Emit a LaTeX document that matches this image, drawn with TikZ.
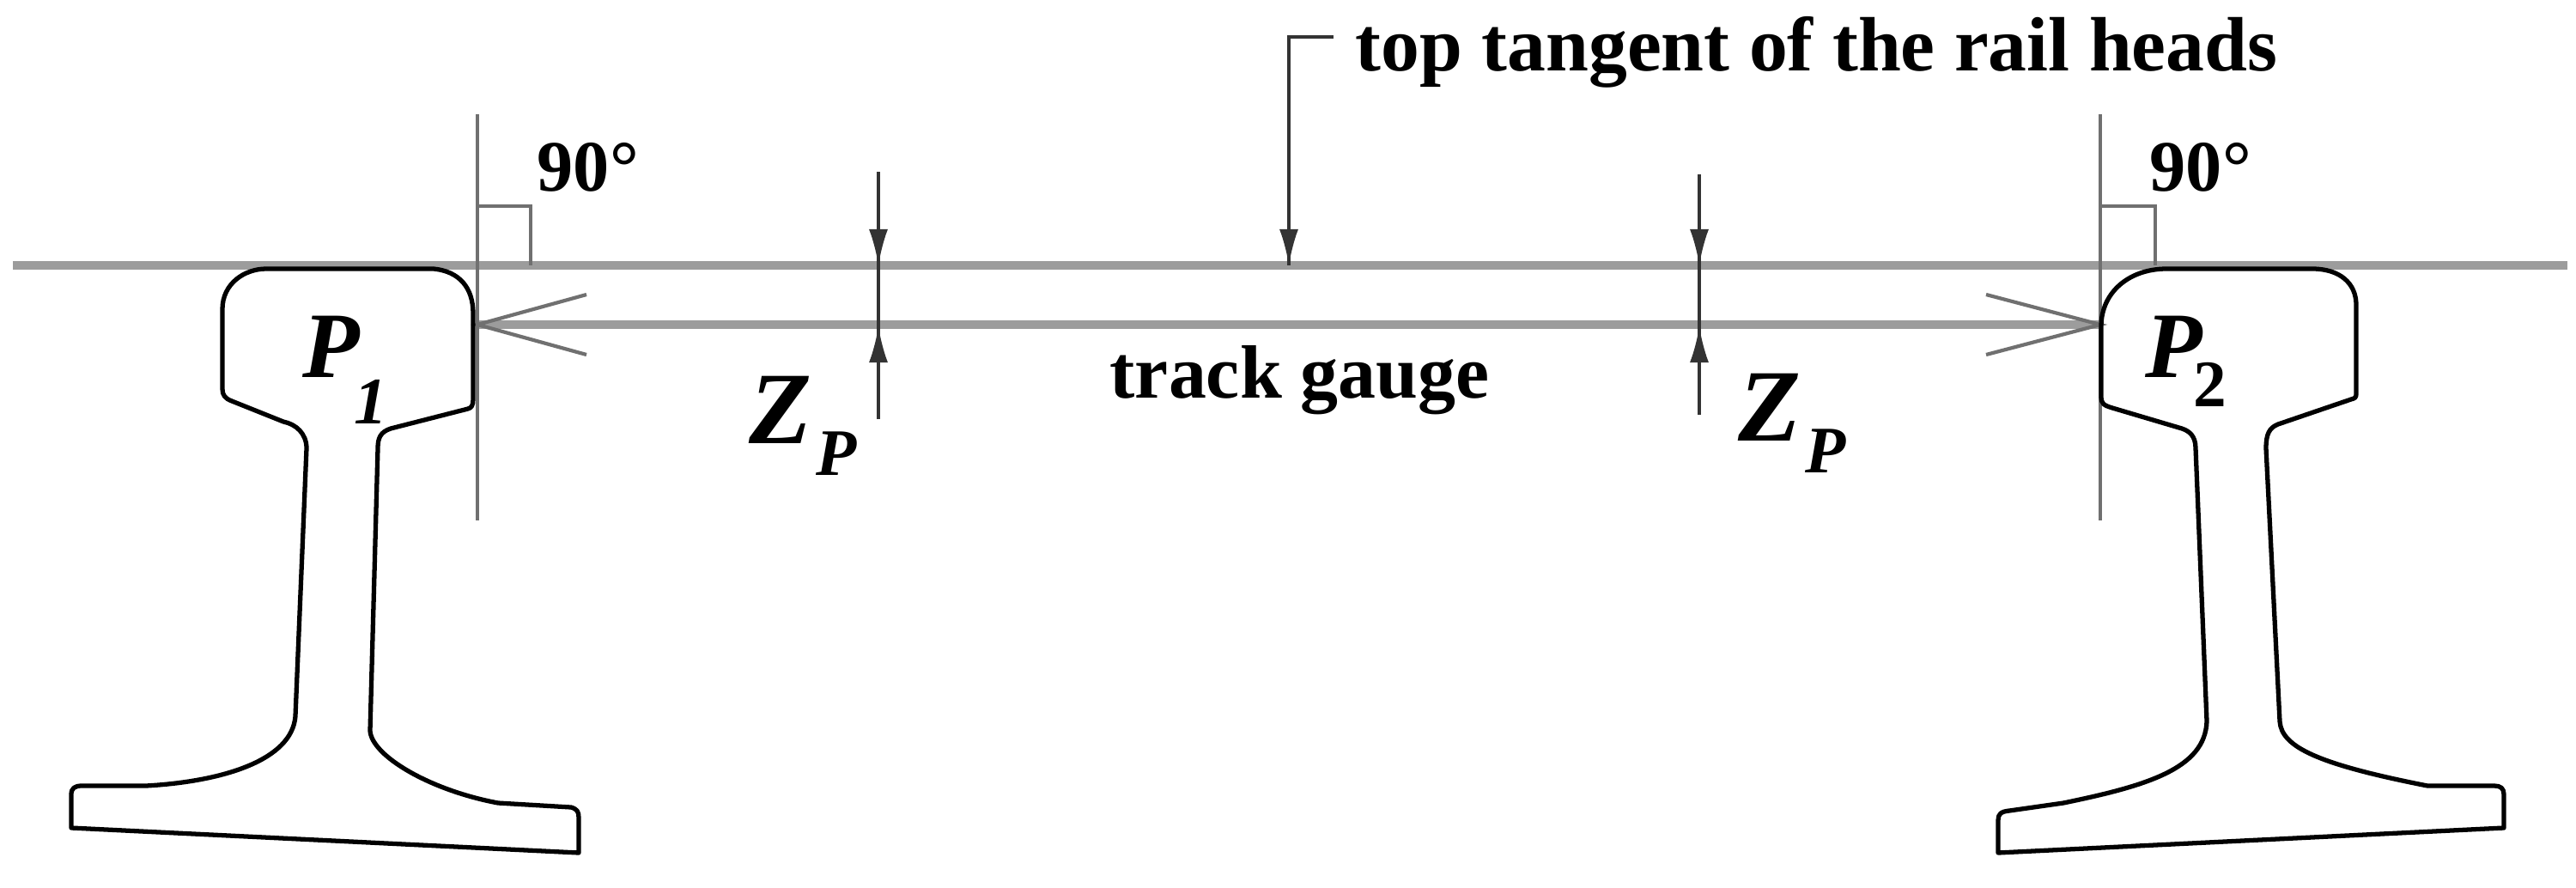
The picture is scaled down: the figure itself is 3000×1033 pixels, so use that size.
\documentclass[tikz,border=0pt]{standalone}
\usepackage{fontspec}
\setmainfont{Liberation Serif}
\usetikzlibrary{arrows.meta}
\definecolor{tanline}{HTML}{9C9C9C}
\definecolor{vline}{HTML}{707070}
\definecolor{dimc}{HTML}{333333}
\tikzset{
  railout/.style={draw=black,line width=1.5pt,line join=round},
  thickgray/.style={draw=tanline,line width=2.6pt},
  refline/.style={draw=vline,line width=1.2pt},
  dimline/.style={draw=dimc,line width=0.9pt},
  dimtip/.style={dimline,-{Latex[length=0.42cm,width=0.22cm]}},
  vlab/.style={inner sep=0pt,anchor=base west},
}
\begin{document}
\begin{tikzpicture}[x=0.01cm,y=-0.01cm]
\useasboundingbox (0,0) rectangle (3000,1033);
\coordinate (tl) at (15,309); \coordinate (tr) at (2990,309);
\coordinate (g1) at (556,378); \coordinate (g2) at (2446,378);
\draw[thickgray] (tl) -- (tr);
\draw[thickgray] (g1) -- (g2);
\draw[refline] (556,133) -- (556,606);
\draw[refline] (2446,133) -- (2446,606);
\draw[refline] (556,240) -- (618,240) -- (618,309);
\draw[refline] (2446,240) -- (2510,240) -- (2510,309);
\draw[refline] (683,343) -- (g1) -- (683,413);
\draw[refline] (2313,343) -- (g2) -- (2313,413);
% left rail
\draw[railout] (310,313) -- (505,313) .. controls (535,316) and (551,335) .. (551,365) -- (551,465)
  .. controls (551,472) and (549,475) .. (545,476) -- (455,499) .. controls (443,503) and (440,510) .. (440,522)
  -- (431,851) .. controls (433,880) and (500,920) .. (580,935) -- (665,940)
  .. controls (672,942) and (674,945) .. (674,952) -- (674,993) -- (83,964) -- (83,925)
  .. controls (83,918) and (87,915) .. (95,915) -- (170,915) .. controls (260,910) and (340,885) .. (344,834)
  -- (357,522) .. controls (357,505) and (345,494) .. (330,491) -- (270,467)
  .. controls (262,464) and (259,460) .. (259,453) -- (259,360) .. controls (259,330) and (285,313) .. (310,313) -- cycle;
% right rail
\draw[railout] (2523,313) -- (2693,313) .. controls (2725,313) and (2744,330) .. (2744,355) -- (2744,459)
  .. controls (2744,463) and (2742,464) .. (2738,465) -- (2653,494) .. controls (2643,498) and (2639,505) .. (2639,522)
  -- (2655,840) .. controls (2657,870) and (2700,890) .. (2827,915) -- (2905,915)
  .. controls (2912,915) and (2916,918) .. (2916,925) -- (2916,964) -- (2327,993) -- (2327,955)
  .. controls (2327,948) and (2330,945) .. (2340,944) -- (2403,935) .. controls (2500,915) and (2568,895) .. (2570,840)
  -- (2557,522) .. controls (2557,508) and (2550,502) .. (2541,499) -- (2460,475)
  .. controls (2450,472) and (2447,470) .. (2447,462) -- (2447,380) .. controls (2447,340) and (2480,313) .. (2523,313) -- cycle;
% Zp dimension arrows
\coordinate (za1) at (1023,200); \coordinate (zb1) at (1023,309);
\coordinate (zc1) at (1023,488); \coordinate (zd1) at (1023,380);
\draw[dimline] (za1) -- (zc1);
\draw[dimtip] (za1) -- (zb1);
\draw[dimtip] (zc1) -- (zd1);
\coordinate (za2) at (1979,203); \coordinate (zb2) at (1979,309);
\coordinate (zc2) at (1979,483); \coordinate (zd2) at (1979,380);
\draw[dimline] (za2) -- (zc2);
\draw[dimtip] (za2) -- (zb2);
\draw[dimtip] (zc2) -- (zd2);
% leader
\coordinate (ld0) at (1553,43); \coordinate (ld1) at (1501,43); \coordinate (ld2) at (1501,309);
\draw[dimline] (ld0) -- (ld1) -- (ld2);
\draw[dimtip] (1501,200) -- (ld2);
% labels
\node[vlab] (ttl) at (1578,82) {\fontsize{25.5pt}{28pt}\selectfont\bfseries top tangent of the rail heads};
\node[vlab] (tg) at (1292,463) {\fontsize{25pt}{28pt}\selectfont\bfseries track gauge};
\node[vlab] (a1) at (625,222) {\fontsize{24pt}{27pt}\selectfont\bfseries 90°};
\node[vlab] (a2) at (2503,222) {\fontsize{24pt}{27pt}\selectfont\bfseries 90°};
\node[vlab] (p1) at (352,439) {\fontsize{31pt}{34pt}\selectfont\bfseries\itshape P};
\node[vlab] (p1s) at (412,493) {\fontsize{22pt}{24pt}\selectfont\bfseries\itshape 1};
\node[vlab] (p2) at (2498,439) {\fontsize{31pt}{34pt}\selectfont\bfseries\itshape P};
\node[vlab] (p2s) at (2554,473) {\fontsize{22pt}{24pt}\selectfont\bfseries 2};
\node[vlab] (z1) at (872,516) {\fontsize{34pt}{36pt}\selectfont\bfseries\itshape Z};
\node[vlab] (z1s) at (950,553) {\fontsize{22pt}{24pt}\selectfont\bfseries\itshape P};
\node[vlab] (z2) at (2024,513) {\fontsize{34pt}{36pt}\selectfont\bfseries\itshape Z};
\node[vlab] (z2s) at (2102,550) {\fontsize{22pt}{24pt}\selectfont\bfseries\itshape P};
\end{tikzpicture}
\end{document}
